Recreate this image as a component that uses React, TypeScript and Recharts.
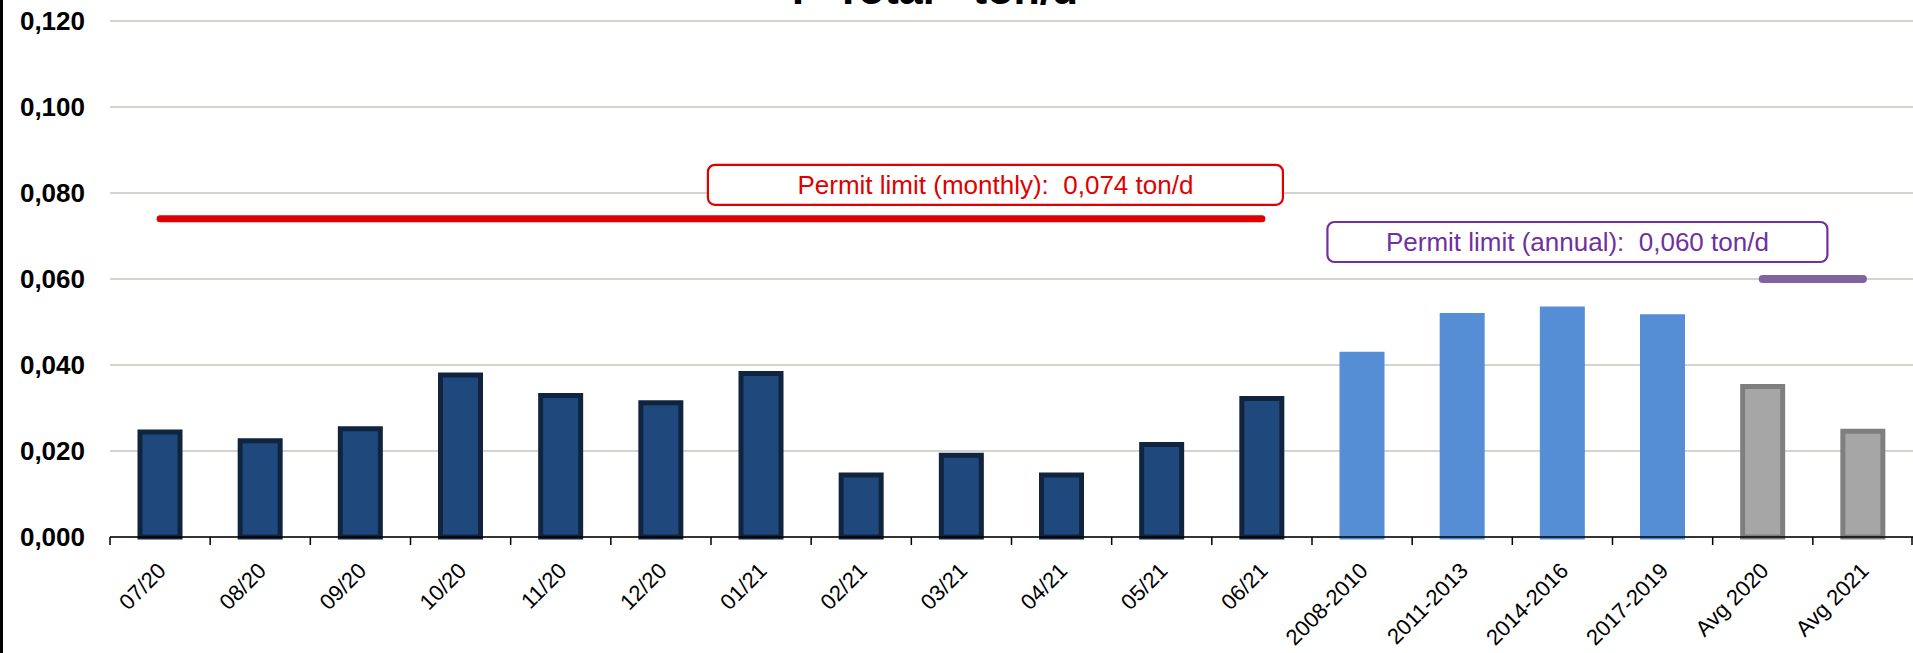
import React from "react";
import {
  ComposedChart,
  Bar,
  Cell,
  XAxis,
  YAxis,
  CartesianGrid,
  ReferenceLine,
  ReferenceDot,
} from "recharts";

// categories and values (ton/d)
const categories = [
  "07/20", "08/20", "09/20", "10/20", "11/20", "12/20",
  "01/21", "02/21", "03/21", "04/21", "05/21", "06/21",
  "2008-2010", "2011-2013", "2014-2016", "2017-2019",
  "Avg 2020", "Avg 2021",
];
const values = [
  0.0244, 0.0224, 0.0252, 0.0377, 0.0329, 0.0312,
  0.038, 0.0144, 0.019, 0.0144, 0.0215, 0.0322,
  0.0425, 0.0515, 0.053, 0.0512,
  0.035, 0.0246,
];
// group of each bar: monthly, period average, yearly average
const groups = [
  "m", "m", "m", "m", "m", "m", "m", "m", "m", "m", "m", "m",
  "p", "p", "p", "p",
  "y", "y",
];
const yTicks = [0, 0.02, 0.04, 0.06, 0.08, 0.1, 0.12];

const monthlyLimit = 0.074;
const annualLimit = 0.06;
const monthlyLabel = "Permit limit (monthly):  0,074 ton/d";
const annualLabel = "Permit limit (annual):  0,060 ton/d";
const title = "P-Total - ton/d";

const FONT = "'Liberation Sans', Arial, sans-serif";

const W = 1913;
const H = 653;
const LEFT = 110;
const BAND = (W - LEFT) / categories.length;

const chartData = categories.map((name, i) => ({ name, value: values[i], group: groups[i] }));

const barStyle = (g: string) => {
  if (g === "m") return { fill: "#1F497D", stroke: "#10243F" };
  if (g === "p") return { fill: "#558ED5", stroke: "#558ED5" };
  return { fill: "#A6A6A6", stroke: "#7F7F7F" };
};

const fmt = (v: number) => v.toFixed(3).replace(".", ",");

const XTick = (props: any) => {
  const { x, y, payload, index } = props;
  const tx = x - 4;
  const ty = y + 24;
  return (
    <g>
      <line x1={x - BAND / 2} x2={x - BAND / 2} y1={y} y2={y + 8} stroke="#000" strokeWidth={1.5} />
      {index === categories.length - 1 && (
        <line x1={x + BAND / 2 - 1} x2={x + BAND / 2 - 1} y1={y} y2={y + 8} stroke="#000" strokeWidth={1.5} />
      )}
      <text
        x={tx}
        y={ty}
        dy="0.72em"
        textAnchor="end"
        transform={`rotate(-45, ${tx}, ${ty})`}
        fill="#000"
        fontSize={22}
        fontFamily={FONT}
      >
        {payload.value}
      </text>
    </g>
  );
};

const YTick = (props: any) => {
  const { x, y, payload } = props;
  return (
    <text x={x - 25} y={y} dy="0.36em" textAnchor="end" fill="#000" fontSize={26} fontWeight="bold" fontFamily={FONT}>
      {fmt(payload.value)}
    </text>
  );
};

// annotation box drawn relative to a point on the limit line
const boxShape = (label: string, color: string, dx: number, w: number, gap: number) => (p: any) => {
  const cx = p.cx + dx;
  const bottom = p.cy - gap;
  const h = 40;
  return (
    <g>
      <rect x={cx - w / 2} y={bottom - h} width={w} height={h} rx={7} fill="#fff" stroke={color} strokeWidth={2.2} />
      <text
        x={cx}
        y={bottom - h / 2}
        dy="0.36em"
        textAnchor="middle"
        fill={color}
        fontSize={26}
        fontFamily={FONT}
        style={{ whiteSpace: "pre" }}
      >
        {label}
      </text>
    </g>
  );
};

export default function App() {
  return (
    <div style={{ position: "absolute", left: 0, top: 0, width: W, height: H, background: "#fff" }}>
      <ComposedChart
        width={W}
        height={H}
        data={chartData}
        margin={{ top: 21, right: 0, bottom: 0, left: 0 }}
        barSize={40}
      >
        <CartesianGrid vertical={false} stroke="#c6c6bf" strokeWidth={1.5} />
        <XAxis
          dataKey="name"
          interval={0}
          height={116}
          tickLine={false}
          tickSize={0}
          tickMargin={0}
          axisLine={{ stroke: "#000", strokeWidth: 1.5 }}
          tick={<XTick />}
        />
        <YAxis
          width={LEFT}
          domain={[0, 0.12]}
          ticks={yTicks}
          axisLine={false}
          tickLine={false}
          tickSize={0}
          tickMargin={0}
          tick={<YTick />}
        />
        <Bar dataKey="value" strokeWidth={5} isAnimationActive={false}>
          {chartData.map((d, i) => (
            <Cell key={`cell-${i}`} {...barStyle(d.group)} />
          ))}
        </Bar>
        <ReferenceLine
          segment={[
            { x: categories[0], y: monthlyLimit },
            { x: categories[11], y: monthlyLimit },
          ]}
          stroke="#E00000"
          strokeWidth={7}
          strokeLinecap="round"
        />
        <ReferenceLine
          segment={[
            { x: categories[16], y: annualLimit },
            { x: categories[17], y: annualLimit },
          ]}
          stroke="#8064A2"
          strokeWidth={8}
          strokeLinecap="round"
        />
        <ReferenceDot
          x={categories[8]}
          y={monthlyLimit}
          shape={boxShape(monthlyLabel, "#E00000", 34, 575, 14)}
        />
        <ReferenceDot
          x={categories[14]}
          y={annualLimit}
          shape={boxShape(annualLabel, "#7030A0", 15, 500, 17)}
        />
      </ComposedChart>
      <svg width={W} height={20} style={{ position: "absolute", left: 0, top: 0 }}>
        <text x={935} y={4} textAnchor="middle" fontSize={43} fontWeight="bold" fontFamily={FONT} fill="#000">
          {title}
        </text>
      </svg>
      <div style={{ position: "absolute", left: 0, top: 0, width: 3, height: H, background: "#000" }} />
    </div>
  );
}
